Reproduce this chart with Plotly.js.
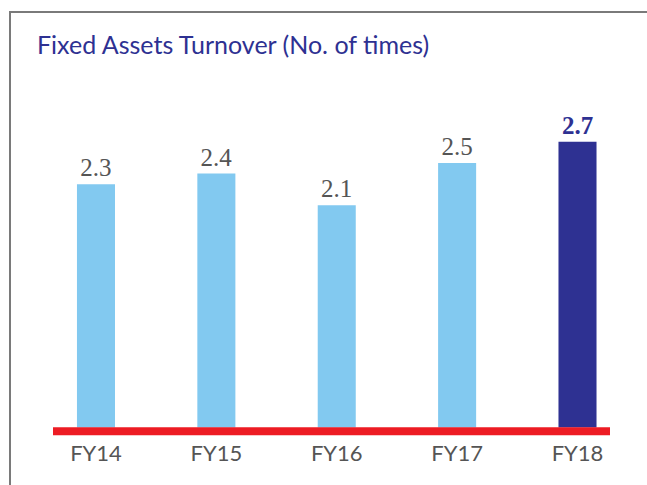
<!DOCTYPE html>
<html>
<head>
<meta charset="utf-8">
<script src="https://cdn.plot.ly/plotly-3.0.1.min.js"></script>
<style>
html,body{margin:0;padding:0;background:#fff;}
#chart{width:647px;height:485px;}
</style>
</head>
<body>
<div id="chart"></div>
<script>
// Data
const categories = ['FY14', 'FY15', 'FY16', 'FY17', 'FY18'];
const values = [2.3, 2.4, 2.1, 2.5, 2.7];
const barColors = ['#82c9f0', '#82c9f0', '#82c9f0', '#82c9f0', '#2e3192'];
const labelColors = ['#555555', '#555555', '#555555', '#555555', '#2e3192'];
const labels = values.map((v, i) => i === values.length - 1 ? '<b>' + v.toFixed(1) + '</b>' : v.toFixed(1));

// Layout geometry (pixels)
const W = 647, H = 485;
const L = 53, R = 610, T = 100, B = 435;
const pxX = px => (px - L) / (R - L);
const pxY = py => (B - py) / (B - T);
const unit = 105.8; // px per unit
const yMin = -(B - 427.5) / unit;
const yMax = (427.5 - T) / unit;

const trace = {
  type: 'bar',
  x: categories,
  y: values,
  marker: {color: barColors},
  width: 0.316,
  text: labels,
  textposition: 'outside',
  constraintext: 'none',
  cliponaxis: false,
  textfont: {family: '"Liberation Serif", "DejaVu Serif", serif', size: 25, color: labelColors},
  hoverinfo: 'x+y'
};

const layout = {
  width: W, height: H,
  margin: {l: L, r: W - R, t: T, b: H - B, pad: 0},
  paper_bgcolor: '#ffffff',
  plot_bgcolor: '#ffffff',
  showlegend: false,
  title: {
    text: 'Fixed Assets Turnover (No. of times)',
    font: {family: 'Lato, "Open Sans", sans-serif', size: 25, color: '#2e3192'},
    x: 37 / W, xref: 'container', xanchor: 'left',
    y: 1 - 45 / H, yref: 'container', yanchor: 'middle'
  },
  xaxis: {
    type: 'category',
    range: [-0.357, 4.27],
    showgrid: false, zeroline: false, showline: false,
    ticks: '',
    tickfont: {family: 'Lato, "Open Sans", sans-serif', size: 22, color: '#555555'},
    ticklabelstandoff: 3,
    fixedrange: true
  },
  yaxis: {
    range: [yMin, yMax],
    visible: false,
    showgrid: false, zeroline: false,
    fixedrange: true
  },
  shapes: [
    // red baseline
    {type: 'rect', xref: 'paper', yref: 'paper', x0: 0, x1: 1, y0: pxY(435.3), y1: pxY(427.3),
     fillcolor: '#ed1c24', line: {width: 0}, layer: 'above'},
    // frame (left + top)
    {type: 'path', xref: 'paper', yref: 'paper',
     path: 'M ' + pxX(10) + ' ' + pxY(H + 5) + ' L ' + pxX(10) + ' ' + pxY(12) + ' L ' + pxX(W + 5) + ' ' + pxY(12),
     line: {color: '#7a7a7a', width: 2}, layer: 'below'}
  ]
};

Plotly.newPlot('chart', [trace], layout, {displayModeBar: false, staticPlot: true});
</script>
</body>
</html>
